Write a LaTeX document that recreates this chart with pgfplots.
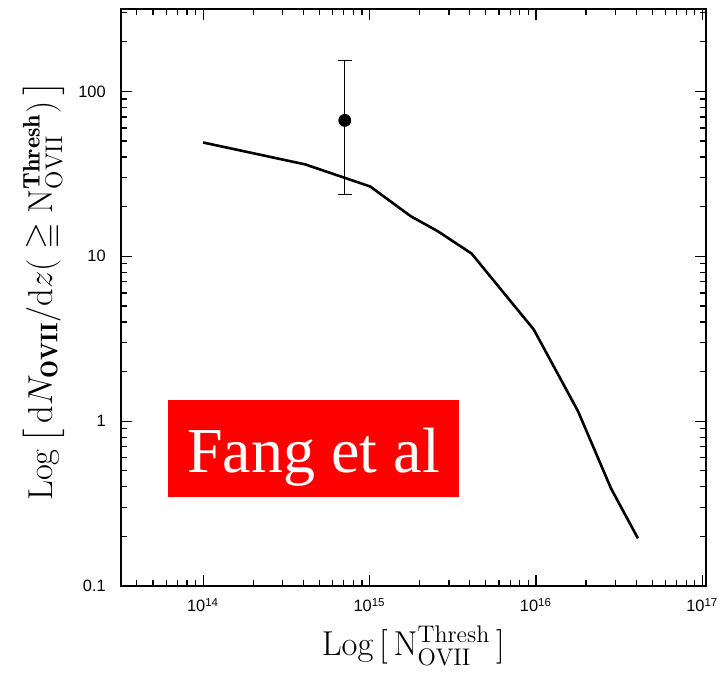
\documentclass[border=0pt]{standalone}
\usepackage{fontspec}
\usepackage{amssymb}
\newfontfamily\helv{Liberation Sans}
\newfontfamily\timesf{Liberation Serif}
\usepackage{pgfplots}
\pgfplotsset{compat=1.18}
\begin{document}
\begin{tikzpicture}
\begin{axis}[
  scale only axis,
  width=292.5pt, height=288.5pt,
  xmode=log, ymode=log,
  xmin=3.2e13, xmax=1.05e17,
  ymin=0.1, ymax=316,
  axis line style={line width=1pt},
  tick align=inside,
  major tick length=5.5pt,
  minor tick length=3pt,
  every tick/.style={line width=0.6pt, black},
  xtick={1e14,1e15,1e16,1e17},
  minor xtick={4e13,5e13,6e13,7e13,8e13,9e13,
    2e14,3e14,4e14,5e14,6e14,7e14,8e14,9e14,
    2e15,3e15,4e15,5e15,6e15,7e15,8e15,9e15,
    2e16,3e16,4e16,5e16,6e16,7e16,8e16,9e16},
  xticklabels={{10\textsuperscript{14}},{10\textsuperscript{15}},{10\textsuperscript{16}},{10\textsuperscript{17}}},
  ytick={0.1,1,10,100},
  minor ytick={0.2,0.3,0.4,0.5,0.6,0.7,0.8,0.9,
    2,3,4,5,6,7,8,9,20,30,40,50,60,70,80,90,200,300},
  yticklabels={0.1,1,10,100},
  tick label style={font=\helv\fontsize{8.2}{10}\selectfont},
  yticklabel style={xshift=-4pt},
  xticklabel style={yshift=-2.5pt},
  xlabel={\LARGE$\mathrm{Log}\,\Big[\,\mathrm{N}^{\mathrm{Thresh}}_{\mathrm{OVII}}\,\Big]$},
  ylabel={\LARGE$\mathrm{Log}\,\bigg[\,\mathrm{d}N_{\mathbf{OVII}}/\mathrm{d}z\big(\geqq\mathrm{N}^{\mathbf{Thresh}}_{\mathrm{OVII}}\big)\,\bigg]$},
  xlabel style={at={(axis description cs:0.5,-0.104)}, anchor=center},
  ylabel style={at={(axis description cs:-0.132,0.511)}, anchor=center, inner sep=0pt},
  clip=false,
]
\addplot[black, line width=1.3pt, line join=round] coordinates {
  (1e14,49) (4.1e14,36.1) (1.01e15,26.5) (1.77e15,17.5) (2.57e15,14.2)
  (4.1e15,10.4) (9.7e15,3.6) (1.79e16,1.15) (2.83e16,0.39) (4.1e16,0.195)
};
\addplot[black, only marks, mark=*, mark size=3pt,
  error bars/.cd, y dir=both, y explicit,
  error bar style={line width=0.7pt, black},
  error mark options={rotate=90, mark size=3.5pt, line width=0.7pt, black}]
  coordinates {(7.1e14,66.7) += (0,87.3) -= (0,42.9)};
\node[fill=red, minimum width=145.5pt, minimum height=48.5pt, inner sep=0pt]
  at (rel axis cs:0.3296,0.2383) {};
\node[anchor=base, text=white, inner sep=0pt, font=\timesf\fontsize{32}{36}\selectfont]
  at (rel axis cs:0.3296,0.1976) {Fang et al};
\end{axis}
\path (current axis.south west) ++(-60.35pt,-41.5pt) rectangle ++(362.4pt,334.5pt);
\end{tikzpicture}
\end{document}
